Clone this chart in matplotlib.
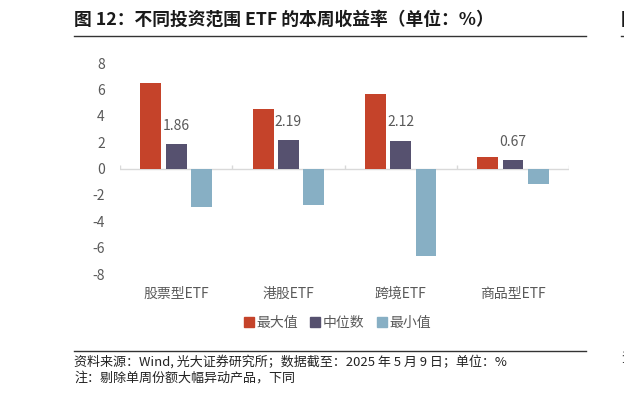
import numpy as np
import matplotlib
matplotlib.use("Agg")
import matplotlib.pyplot as plt
from matplotlib.lines import Line2D

plt.rcParams['font.family'] = ['Noto Sans CJK SC', 'DejaVu Sans']

# 数据（%）
categories = ['股票型ETF', '港股ETF', '跨境ETF', '商品型ETF']
max_vals = [6.45, 4.55, 5.65, 0.86]
median_vals = [1.86, 2.19, 2.12, 0.67]
min_vals = [-2.95, -2.78, -6.6, -1.19]
yticks = [8, 6, 4, 2, 0, -2, -4, -6, -8]

c_max = '#C5432A'
c_med = '#56516F'
c_min = '#87AFC4'
grey = '#595959'

fig = plt.figure(figsize=(6.24, 3.95), dpi=100)
ax = fig.add_axes([0.1923, 0.3063, 0.7196, 0.5342])

x = np.arange(len(categories))
w = 0.185
off = 0.225
ax.bar(x - off, max_vals, w, color=c_max, label='最大值')
ax.bar(x, median_vals, w, color=c_med, label='中位数')
ax.bar(x + off, min_vals, w, color=c_min, label='最小值')

# 中位数标注
for xi, v in zip(x, median_vals):
    ax.annotate(f'{v:.2f}', (xi, v), xytext=(0, 8), textcoords='offset points',
                ha='center', va='bottom', fontsize=10, color=grey)

ax.set_xlim(-0.5, len(categories) - 0.5)
ax.set_ylim(-8, 8)
ax.set_yticks(yticks)
ax.set_yticklabels([str(t) for t in yticks])
ax.set_xticks(x)
ax.set_xticklabels(categories)
ax.tick_params(axis='y', length=0, pad=11, labelsize=10, labelcolor=grey)
ax.tick_params(axis='x', length=0, pad=9, labelsize=10, labelcolor=grey)
for s in ax.spines.values():
    s.set_visible(False)

# 零轴及分类刻度
ax.axhline(0, color='#D9D9D9', lw=1, zorder=0)
bounds = np.arange(len(categories) + 1) - 0.5
ax.vlines(bounds, 0, 0.3, color='#D9D9D9', lw=1, zorder=0)

handles = [Line2D([], [], marker='s', ls='', color=c, markersize=7)
           for c in (c_max, c_med, c_min)]
fig.legend(handles, ['最大值', '中位数', '最小值'], loc='center',
           bbox_to_anchor=(0.539, 0.182), ncol=3, frameon=False,
           fontsize=10, labelcolor=grey, handletextpad=0.05,
           columnspacing=0.75, handlelength=1.0)

# 标题与来源
fig.text(0.1186, 0.949, '图 12：不同投资范围 ETF 的本周收益率（单位：%）',
         fontsize=12.8, fontweight='bold', color='#1a1a1a', va='center')
fig.add_artist(Line2D([0.1186, 0.939], [0.909, 0.909], color='#333333', lw=1))
fig.text(0.995, 0.949, '图', fontsize=12.8, fontweight='bold', color='#1a1a1a', va='center')
fig.add_artist(Line2D([0.995, 1.0], [0.909, 0.909], color='#333333', lw=1))

fig.add_artist(Line2D([0.1186, 0.939], [0.112, 0.112], color='#333333', lw=1))
fig.text(0.1186, 0.085, '资料来源：Wind, 光大证券研究所；数据截至：2025 年 5 月 9 日；单位：%',
         fontsize=9.4, color='#222222', va='center')
fig.text(0.1186, 0.044, '注：剔除单周份额大幅异动产品，下同',
         fontsize=9.4, color='#222222', va='center')
fig.text(0.995, 0.093, '资', fontsize=9.4, color='#222222', va='center')

fig.savefig('out.png', dpi=100)
